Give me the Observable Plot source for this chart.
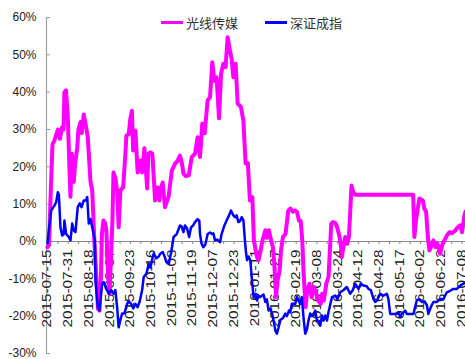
<!DOCTYPE html>
<html><head><meta charset="utf-8">
<script src="https://cdn.jsdelivr.net/npm/d3@7"></script>
<script src="https://cdn.jsdelivr.net/npm/@observablehq/plot@0.6"></script>
<style>
html,body{margin:0;padding:0;background:#fff;}
#wrap{position:relative;width:465px;height:359px;overflow:hidden;}
.item{position:absolute;top:13px;height:18px;display:flex;align-items:center;font-family:"Noto Sans CJK SC","Noto Sans",sans-serif;font-size:13px;color:#333;white-space:nowrap;}
.sw{display:inline-block;width:22px;height:3px;margin-right:3px;}
</style></head><body><div id="wrap"></div>
<script>
// series names and colours
const seriesNames = ["光线传媒", "深证成指"];
const seriesColors = ["#FF00FF", "#0000FF"];

// x tick labels (every 12 trading days, starting at trading day 0)
const tickLabels = ["2015-07-15","2015-07-31","2015-08-18","2015-09-07","2015-09-23","2015-10-16","2015-11-03","2015-11-19","2015-12-07","2015-12-23","2016-01-11","2016-01-27","2016-02-19","2016-03-08","2016-03-24","2016-04-12","2016-04-28","2016-05-17","2016-06-02","2016-06-22","2016-07-08"];
const labelStep = 12;
const tickStep = 6;
const lastDay = 242;
const yTicks = [60, 50, 40, 30, 20, 10, 0, -10, -20, -30];

// 光线传媒 cumulative return (%), [trading day index, value]
const guangxian = [[0,-1.5],[0.9,-1],[2,15],[2.9,26],[4,27],[6,30],[7.2,27.5],[8.4,30.6],[9.3,30],[9.8,40],[10.7,40.5],[11.7,34],[12.7,20],[13.3,12],[14.1,23.5],[15.2,16],[16,21],[17.2,25],[17.9,30],[19.1,32],[19.8,29],[21,34],[22.4,30.6],[23.3,28],[24.9,16],[25.9,13.7],[27.2,-0.5],[28.2,-8.6],[29.2,-18],[30.1,-18.5],[30.9,-10],[31.5,2],[32.4,5.6],[33.3,5],[34.1,3],[35,-8],[35.9,-14],[36.7,-5],[37.6,5.6],[38.2,18.5],[39.3,17],[40.3,13.7],[41.2,3.8],[42.2,13.7],[43.8,14.5],[45.1,23.5],[45.7,28.4],[47,28.7],[48,33],[48.9,35],[49.6,24.4],[50.9,29.7],[52.2,18.5],[53.8,21.7],[54.8,18.5],[56.1,25],[57.7,14.2],[58.4,23.5],[59.6,23.9],[60.7,23.5],[62.3,11],[63.8,14.5],[64.8,11],[65.4,13.7],[66.7,15.8],[68,9.2],[70.1,12],[72,19],[73.9,20.9],[75.2,21.5],[76.7,23],[77.8,21],[78.7,18.2],[80.1,17.5],[81.8,17.7],[83.5,22.6],[85.4,23.5],[86.9,27.9],[88.3,22.6],[89.6,31.6],[91,29],[92.7,37.8],[94.1,38.7],[95.4,48],[96.6,43],[97.9,44],[99.3,33],[100.5,45],[101.8,47.6],[103.1,46.7],[104.3,54.7],[105.7,51],[106.6,48.9],[107.6,44],[108.9,47.6],[110.1,37],[112,36],[113.4,32.4],[114.7,20.9],[116,21],[117.2,11],[118.6,11.9],[119.5,0.3],[120.5,-2.4],[121.3,-4.2],[122.2,-5],[123.4,-2.4],[124.3,0],[126.1,3],[127,1],[128.2,3],[129.6,0],[130.5,-1.5],[131.3,-6],[132.3,-14.9],[133.2,-10.4],[134.4,-7.8],[135.2,-2.4],[136.3,1.2],[137.8,2],[139.4,8.3],[140.7,8.8],[142,8],[143.3,8.3],[144.4,8],[145.6,5.6],[146.6,5.5],[147.5,0.3],[148.2,-7.8],[149.4,-17.6],[150.4,-13],[151.7,-11.3],[152.9,-14.9],[154.3,-12.2],[155.6,-14],[156.7,-15.8],[158.1,-16.7],[159,-14],[160,-15.8],[161.4,-11.3],[162.7,-9.5],[163.7,-0.6],[164.3,4.8],[165.2,5.2],[166.6,5],[167.7,3.8],[169.1,1.2],[170.2,-2.4],[170.4,-4.2],[171.6,-0.6],[172.4,1.2],[173.5,-0.6],[174.5,1.2],[175.4,9.2],[176,15],[177,13.2],[178.3,12.5],[211.7,12.5],[212.4,1.2],[213.4,6],[215.3,11.5],[217.3,11],[218.2,8.8],[219.2,8],[220.2,1.2],[221.1,-2.4],[222.1,-1.3],[223.4,0.3],[224.6,-1.5],[225.6,-0.5],[226.9,-2.4],[227.3,-3.3],[228.5,-1],[229.8,0.3],[231.2,1.6],[232.7,2.5],[234.2,2.2],[236.2,3],[237.5,3.8],[238.9,4.3],[240,2.5],[241.4,7],[242,8]];

// 深证成指 cumulative return (%), [trading day index, value]
const shenzheng = [[0,-0.5],[1.2,4.8],[2.1,8.3],[4,9.6],[5,10.5],[6,13.2],[6.6,12.5],[7.5,3.8],[8.5,1.6],[9.4,2],[9.8,5.6],[10.8,2],[12.3,1.2],[13.3,0.3],[14.3,4.8],[15.2,3],[16.2,2.5],[17.5,9.2],[18.7,10.2],[19.7,9.2],[21,11],[22.2,11],[23,11.9],[23.9,4.8],[24.9,6],[25.9,3.8],[27.4,0.3],[27.8,-10.4],[29.1,-17.6],[30.1,-18.5],[31.6,-11.3],[32.6,-10.9],[33.8,-12.5],[35.5,-14],[36.8,-13],[38.3,-14],[39.3,-13],[40.3,-17.6],[41.2,-23],[42.2,-21],[43.2,-19.3],[44.5,-19.3],[46.1,-16.7],[47,-16],[48.4,-16.7],[49.6,-17.9],[50.9,-16.7],[52.2,-17.6],[53.4,-16],[54.8,-13],[55.7,-9.5],[57.3,-8.6],[58.6,-6],[59.6,-7],[60.5,-5],[61.5,-3.2],[63,-4.5],[64.4,-4],[65.4,-3.2],[66.7,-2.8],[67.8,-4],[68.8,-5.5],[70.2,-6],[71.1,-4],[72.1,-1.5],[73,1.2],[74.8,2],[76.7,4.3],[77.7,4],[78.7,2.5],[79.6,4.3],[80.8,3.5],[82,1.2],[83.1,3.8],[84.3,4.3],[85.4,5.2],[86.9,6],[87.9,5.5],[88.3,2],[89.2,-0.6],[90.2,-1.5],[91.4,-0.8],[92.7,2],[94.1,2.4],[95.3,2],[96,2.2],[97,0.3],[98.3,0.5],[99.9,-0.2],[100.8,2],[102.4,4.3],[103.7,5.6],[105.1,7],[106.2,8.3],[107.6,7],[108.6,6.5],[109.5,7],[110.5,5.2],[111.5,5.5],[112.4,6.5],[113.4,5.7],[114.3,0.3],[114.8,-2.4],[115.5,-5],[116.4,-4],[117.4,-5],[118.4,-10.4],[119.3,-14.9],[120.3,-14],[121.3,-15.8],[122.2,-14.5],[123.2,-14.9],[125.1,-14.2],[126.1,-16.2],[127,-15.5],[128,-18.5],[129,-18],[130,-19.3],[130.9,-21.2],[131.9,-23.8],[132.8,-24.7],[133.8,-23],[134.8,-21],[136.3,-20.5],[137.7,-19.3],[138.6,-20],[139.8,-18.5],[140.5,-19],[141.5,-16.7],[143.4,-16.7],[144.4,-14.9],[146.3,-16.7],[147.3,-14.9],[148.2,-20.3],[149.2,-24.7],[150.2,-23.5],[151.1,-21.2],[152.1,-19.3],[153.1,-20],[154,-19.8],[155,-18.5],[156,-21.2],[156.9,-21.2],[157.9,-22.5],[158.9,-19.8],[159.8,-21.2],[160.8,-19.8],[161.8,-21.2],[162.7,-18.9],[164.7,-14.9],[166.6,-14.5],[167.9,-15.4],[169.5,-13.6],[171.4,-13],[173.3,-12.2],[175.2,-14],[176.8,-13],[178.1,-11.3],[180,-12.7],[181.4,-11.3],[182.9,-11.8],[184.9,-12],[185.8,-12.7],[187.2,-13],[188.7,-15.4],[189.7,-16.2],[190.7,-15.8],[192.6,-14],[194.5,-14.5],[196.5,-14],[197.4,-15.5],[198.4,-19.4],[200.3,-19.4],[202.3,-19.4],[203.2,-19],[204.2,-20.3],[205.1,-19.4],[206.1,-19],[207.1,-18.5],[208,-19.4],[209.9,-19.4],[211.9,-19.4],[212.8,-17.6],[213.8,-15.8],[215.3,-15.4],[216.7,-16.2],[218.2,-16],[219.6,-17],[220.5,-19.4],[221.9,-17.6],[223.4,-16.2],[225.3,-16.2],[227.3,-15.4],[229.2,-15.4],[231.2,-13.6],[233.1,-13.2],[235,-12.7],[237,-12.7],[238.9,-11.8],[240.8,-11.3],[242,-11]];

const toRows = (arr, name) => arr.map(([day, value]) => ({day, value, series: name}));
const rowsA = toRows(guangxian, seriesNames[0]);
const rowsB = toRows(shenzheng, seriesNames[1]);
const labelRows = tickLabels.map((t, i) => ({day: i * labelStep, label: t}));
const tickDays = d3.range(0, lastDay + 1, tickStep);

const chart = Plot.plot({
  width: 465, height: 359,
  marginLeft: 47, marginRight: 0, marginTop: 17, marginBottom: 6,
  x: {domain: [0, lastDay], axis: null},
  y: {domain: [-30, 60], axis: null},
  style: {fontFamily: "'Liberation Sans', Arial, sans-serif", fontSize: "12px", color: "#222", background: "transparent", overflow: "hidden"},
  marks: [
    Plot.axisY({ticks: yTicks, tickSize: 0, tickPadding: 11, tickFormat: d => d + "%", fontSize: 12, label: null}),
    Plot.ruleX([0], {y1: -30, y2: 60, stroke: "#a0a0a0", strokeWidth: 1.2, dx: -1}),
    Plot.ruleY(yTicks, {x1: 0, x2: 2.3, stroke: "#a0a0a0", dx: -1}),
    Plot.ruleY([0], {stroke: "#888"}),
    Plot.ruleX(tickDays, {y1: 0, y2: -0.8, stroke: "#888"}),
    Plot.text(labelRows, {x: "day", y: 0, text: "label", rotate: -90, textAnchor: "end", dy: 8, fontSize: 12, fill: "#222"}),
    Plot.line(rowsA, {x: "day", y: "value", stroke: seriesColors[0], strokeWidth: 4, strokeLinejoin: "round"}),
    Plot.line(rowsB, {x: "day", y: "value", stroke: seriesColors[1], strokeWidth: 2.5, strokeLinejoin: "round"})
  ]
});
// stretch rotated date labels along their reading direction
d3.select(chart).selectAll("text").each(function() {
  const t = this.getAttribute("transform");
  if (t && t.includes("rotate(-90)")) this.setAttribute("transform", t + " scale(1.27,1)");
});
const wrap = document.getElementById("wrap");
wrap.appendChild(chart);
const legendLefts = [161, 265];
seriesNames.forEach((name, i) => {
  const it = document.createElement("div");
  it.className = "item";
  it.style.left = legendLefts[i] + "px";
  it.innerHTML = `<span class="sw" style="background:${seriesColors[i]}"></span><span>${name}</span>`;
  wrap.appendChild(it);
});
</script></body></html>
